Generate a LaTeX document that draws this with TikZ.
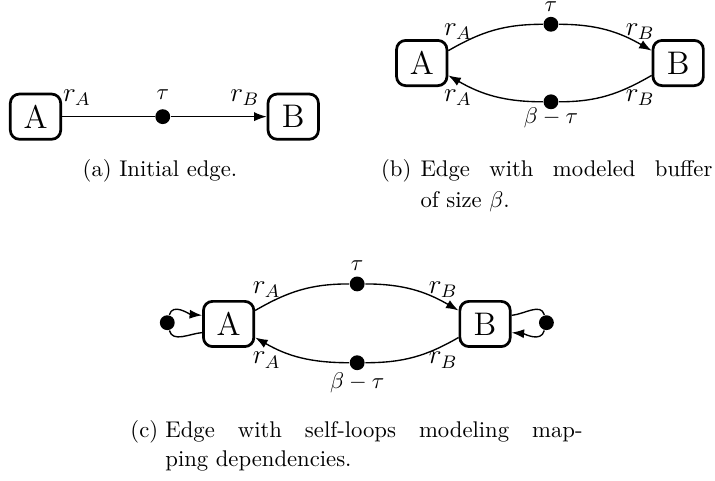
\documentclass[tikz,border=0pt]{standalone}
\usepackage{tikz}
\usetikzlibrary{arrows.meta, positioning}

\tikzset{
  actor/.style={draw, rounded corners=4pt, line width=1.2pt,
                minimum width=0.78cm, minimum height=0.70cm,
                inner sep=0pt, font=\Large},
  tok/.style={circle, fill, inner sep=0pt, minimum size=0.23cm},
  rate/.style={inner sep=0pt, font=\large},
  delay/.style={inner sep=0pt},
  subcap/.style={inner sep=0pt, anchor=base west},
  sublabel/.style={inner sep=0pt, anchor=base east},
  >={Latex[length=5.5pt,width=4pt]}
}

\begin{document}
\begin{tikzpicture}[semithick]
\useasboundingbox (0,0) rectangle (11.07,7.446);

% --- (a) INITIAL EDGE ---
\node[actor] (Aa) at (0.55,5.64) {A};
\node[tok]   (ta) at (2.52,5.64) {};
\node[actor] (Ba) at (4.54,5.64) {B};
\draw (Aa) -- (ta);
\draw[->] (ta) -- (Ba);
\node[rate] (raa) at (1.19,5.94) {$r_A$};
\node[delay] (tau_a) at (2.52,5.98) {$\tau$};
\node[rate] (rba) at (3.79,5.94) {$r_B$};
\node[subcap] (capa) at (1.27,4.71) {(a) Initial edge.};

% --- (b) MODELED BUFFER ---
\node[actor] (Ab) at (6.53,6.47) {A};
\node[actor] (Bb) at (10.50,6.47) {B};
\node[tok] (tb) at (8.53,7.07) {};
\node[tok] (bb) at (8.53,5.87) {};
\draw (Ab.25) to[out=30,in=180] (tb);
\draw[->] (tb) to[out=0,in=150] (Bb.155);
\draw (Bb.205) to[out=210,in=0] (bb);
\draw[->] (bb) to[out=180,in=-30] (Ab.-25);
\node[rate] (rab1) at (7.09,6.95) {$r_A$};
\node[rate] (rbb1) at (9.91,6.95) {$r_B$};
\node[rate] (rab2) at (7.09,5.93) {$r_A$};
\node[rate] (rbb2) at (9.91,5.93) {$r_B$};
\node[delay] (tau_b) at (8.53,7.35) {$\tau$};
\node[delay] (buf_b) at (8.53,5.62) {$\beta-\tau$};
\node[sublabel] (capb) at (6.38,4.71) {(b)};
\node[subcap] (capb1) at (6.50,4.71) {\makebox[4.52cm][s]{Edge with modeled buffer}};
\node[subcap] (capb2) at (6.50,4.24) {of size $\beta$.};

% --- (c) SELF-LOOPS ---
\node[actor] (Ac) at (3.54,2.43) {A};
\node[actor] (Bc) at (7.51,2.43) {B};
\node[tok] (tc) at (5.53,3.05) {};
\node[tok] (bc) at (5.53,1.83) {};
\node[tok] (lc) at (2.59,2.45) {};
\node[tok] (rc) at (8.46,2.45) {};
\draw (Ac.27) to[out=30,in=180] (tc);
\draw[->] (tc) to[out=0,in=150] (Bc.153);
\draw (Bc.207) to[out=210,in=0] (bc);
\draw[->] (bc) to[out=180,in=-30] (Ac.-27);
% self-loops
\draw[->] (lc) to[out=75,in=175] (Ac.162);
\draw (Ac.198) to[out=185,in=-75] (lc);
\draw (Bc.18) to[out=5,in=105] (rc);
\draw[->] (rc) to[out=-105,in=-5] (Bc.-18);
\node[rate] (rac1) at (4.13,2.96) {$r_A$};
\node[rate] (rbc1) at (6.86,2.96) {$r_B$};
\node[rate] (rac2) at (4.13,1.87) {$r_A$};
\node[rate] (rbc2) at (6.86,1.87) {$r_B$};
\node[delay] (tau_c) at (5.53,3.34) {$\tau$};
\node[delay] (buf_c) at (5.53,1.52) {$\beta-\tau$};
\node[sublabel] (capc) at (2.46,0.67) {(c)};
\node[subcap] (capc1) at (2.55,0.67) {\makebox[6.46cm][s]{Edge with self-loops modeling map-}};
\node[subcap] (capc2) at (2.55,0.22) {ping dependencies.};
\end{tikzpicture}
\end{document}
